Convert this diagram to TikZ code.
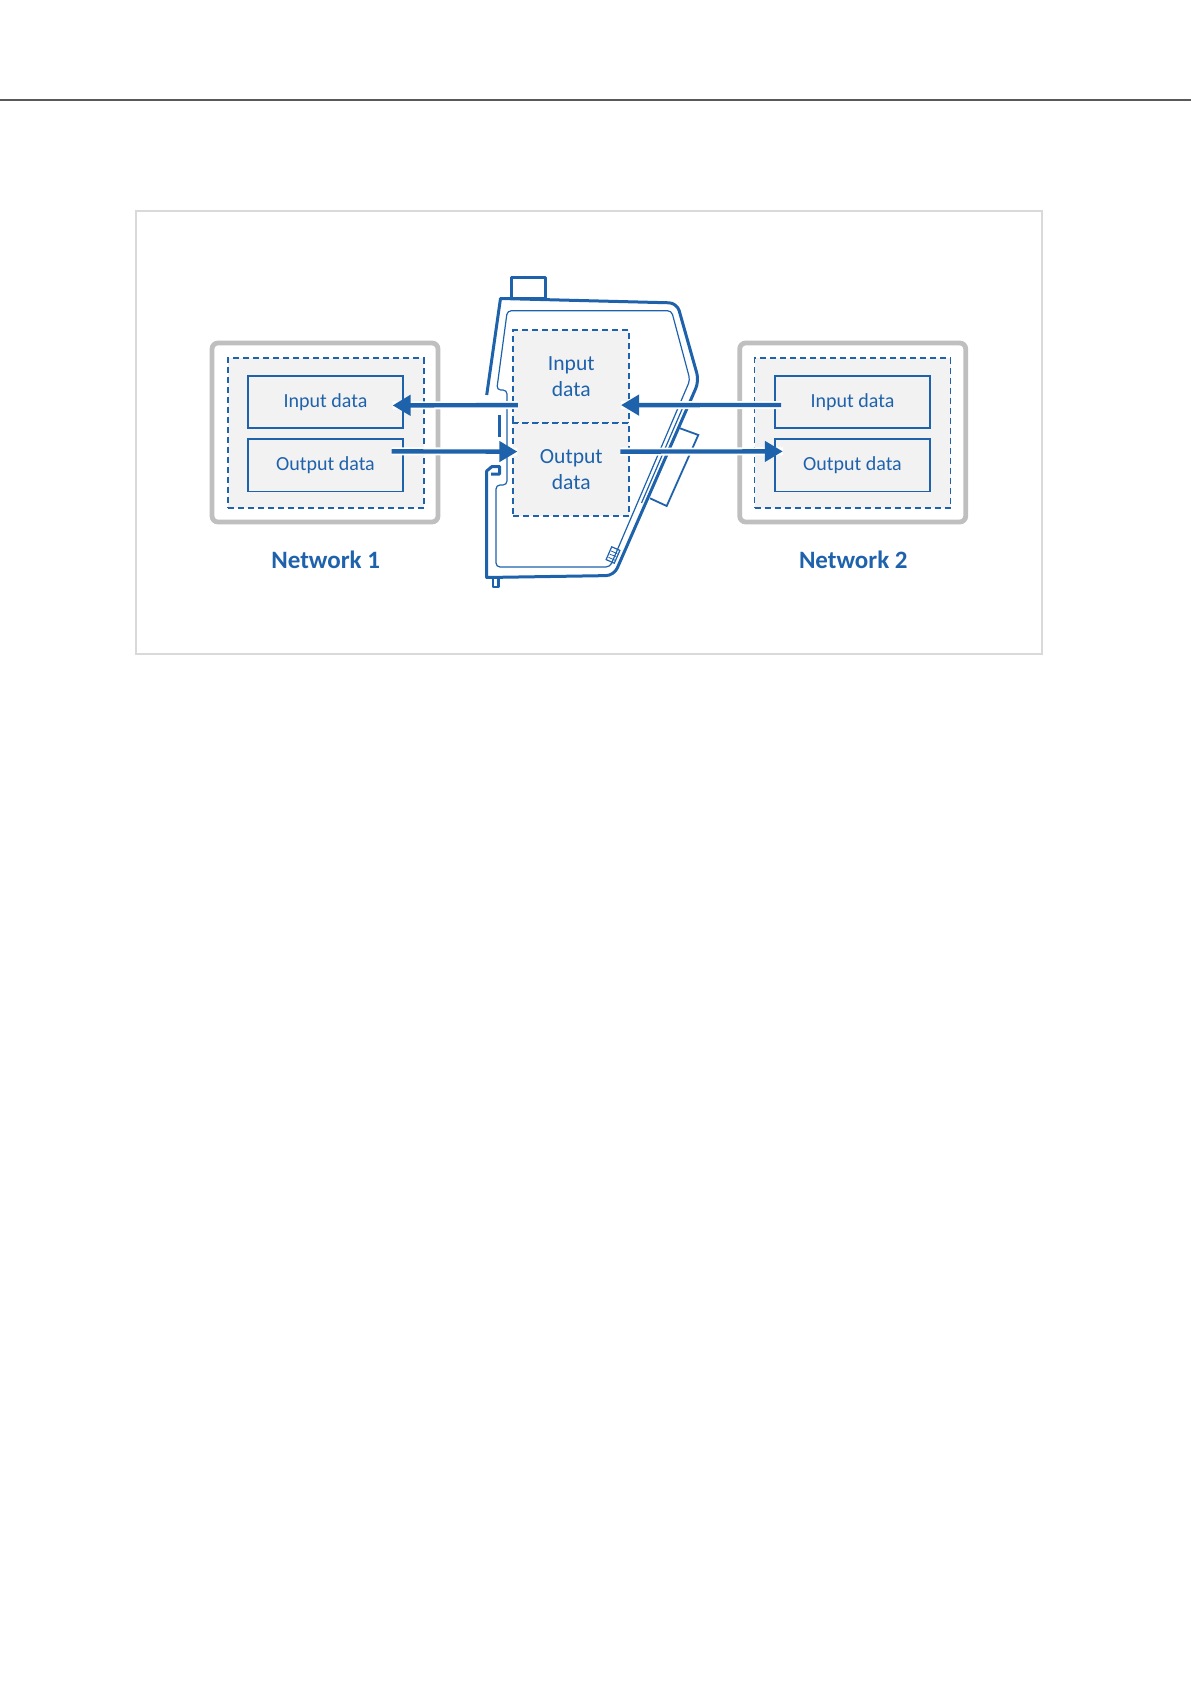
\documentclass[tikz,border=0pt]{standalone}
\usepackage{fontspec}
\setmainfont{Carlito}
\usetikzlibrary{positioning,arrows.meta}

\definecolor{netblue}{RGB}{31,98,172}
\definecolor{boxgrey}{RGB}{191,191,191}
\definecolor{fillgrey}{RGB}{242,242,242}
\definecolor{framegrey}{RGB}{217,217,217}
\definecolor{rulegrey}{RGB}{89,89,89}

\begin{document}
\begin{tikzpicture}[x=0.5pt, y=-0.5pt,
    netbox/.style={draw=boxgrey, line width=2.4pt, rounded corners=3pt, fill=white, minimum width=113pt, minimum height=89.5pt},
    zonebox/.style={draw=netblue, dash pattern=on 3pt off 2pt, line width=0.95pt, fill=fillgrey, minimum width=98pt, minimum height=74.7pt},
    databox/.style={draw=netblue, line width=0.9pt, fill=fillgrey, minimum width=77.2pt, minimum height=26pt, text=netblue, font=\fontsize{10}{12}\selectfont},
    devbox/.style={draw=netblue, dash pattern=on 3pt off 2pt, line width=0.95pt, fill=fillgrey, minimum width=58pt, minimum height=46.3pt, text=netblue, align=center, font=\fontsize{10.8}{13}\selectfont},
    netlabel/.style={text=netblue, font=\fontsize{12.5}{15}\selectfont\bfseries},
    flow/.style={draw=netblue, line width=2.2pt, -{Triangle[length=9pt,width=10pt]}, preaction={draw=white, line width=4pt, -}},
    wall/.style={draw=netblue, line width=1.5pt, line join=round},
    liner/.style={draw=netblue, line width=0.6pt}]
    \useasboundingbox (0,0) rectangle (1191,1684);

    % Page rule and frame
    \draw[rulegrey, line width=0.6pt] (0,100) -- (1191,100);
    \draw[framegrey, line width=0.6pt] (136,211) rectangle (1042,654);

    % Network 1
    \node[netbox] (net1) at (325,432.5) {};
    \node[zonebox] (zone1) at (325.8,433) {};
    \node[databox] (nin1) at (325.5,402) {Input data};
    \node[databox, below=4.8pt of nin1] (nout1) {Output data};
    \node[netlabel] (lab1) at (325.7,560) {Network 1};

    % Network 2
    \node[netbox] (net2) at (852.7,432.5) {};
    \node[zonebox] (zone2) at (852.5,433) {};
    \node[databox] (nin2) at (852.5,402) {Input data};
    \node[databox, below=4.8pt of nin2] (nout2) {Output data};
    \node[netlabel] (lab2) at (853.3,560) {Network 2};

    % Gateway body
    \draw[wall] (511.7,298.5) rectangle (545,278);
    \draw[wall] (486.7,395) -- (500.5,298.5) [rounded corners=4pt] -- (677,303) -- (699,381) -- (614,575.5) [sharp corners] -- (486.7,577.5) -- (486.7,474);
    \draw[wall] (486.7,474) -- (486.7,471) -- (492,466.5) -- (499.5,466.5) -- (499.5,474) -- (491,474);
    \draw[wall] (499.3,415) -- (499.3,437);
    \draw[wall, line width=1.2pt] (492.7,578) rectangle (498.5,587);
    \draw[liner, rounded corners=2pt] (507,390) -- (496.7,390) -- (507.3,310.7) -- (671.5,310.7) -- (690,380) -- (610,567) -- (496,567) -- (496,485) -- (507,485) -- cycle;
    \draw[liner] (684.3,404) -- (641.5,503);
    \draw[liner, line width=0.9pt] (680,428.3) -- (698.3,435) -- (666.7,506) -- (650,498.3);
    \draw[liner] (611.7,546.8) -- (619.9,550.4) -- (614.3,563.2) -- (606.1,559.6) -- cycle;
    \draw[liner, line width=0.4pt] (611,550.9) -- (617.4,553.7) (609.8,554.3) -- (616.2,556.4) (608.6,557.4) -- (615,560.2);

    % Gateway data
    \node[devbox] (devin) at (571.3,376.7) {Input\\data};
    \node[devbox, below=-0.95pt of devin] (devout) {Output\\data};

    % Data flow
    \draw[flow] ([xshift=2.8pt,yshift=-14.2pt]devin.west) -- ([xshift=-5.5pt,yshift=-1.7pt]nin1.east);
    \draw[flow] ([xshift=3.4pt,yshift=-1.5pt]nin2.west) -- ([xshift=-4.6pt,yshift=-14.2pt]devin.east);
    \draw[flow] ([xshift=-6pt,yshift=7pt]nout1.east) -- ([xshift=2.5pt,yshift=8.85pt]devout.west);
    \draw[flow] ([xshift=-5pt,yshift=8.85pt]devout.east) -- ([xshift=4.2pt,yshift=7pt]nout2.west);

\end{tikzpicture}
\end{document}
